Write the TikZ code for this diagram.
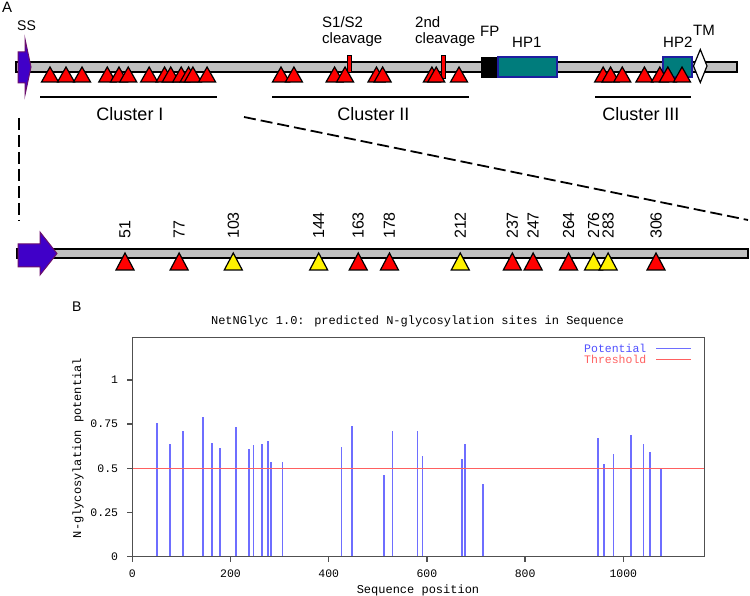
\documentclass[tikz,border=0pt]{standalone}
\usepackage{fontspec}
\setmainfont{Liberation Sans}
\newfontfamily\chartfont{Liberation Mono}
\definecolor{barg}{HTML}{C0C0C0}
\definecolor{ssfill}{HTML}{4000C8}
\definecolor{ssline}{HTML}{6B0F6B}
\definecolor{hpfill}{HTML}{007C7C}
\definecolor{hpline}{HTML}{1E1EA0}
\definecolor{potblue}{HTML}{6E6EFF}
\definecolor{potText}{HTML}{5050FF}
\definecolor{thrred}{HTML}{FF6060}
\definecolor{frameg}{HTML}{505050}
\begin{document}
\begin{tikzpicture}[x=1pt,y=-1pt,
  protbar/.style={draw=black,fill=barg,line width=1.4pt},
  ssarrow/.style={draw=ssline,fill=ssfill,line width=1pt,line join=miter},
  hpbox/.style={draw=hpline,fill=hpfill,line width=1.2pt},
  tri/.style={draw=black,line width=1.2pt,line join=miter},
  cleav/.style={draw=black,fill=red,line width=0.8pt},
  lab/.style={inner sep=0pt,font=\fontsize{15}{16}\selectfont},
  cluslab/.style={inner sep=0pt,font=\fontsize{18}{20}\selectfont,anchor=base},
  numlab/.style={inner sep=0pt,font=\fontsize{16}{18}\selectfont,rotate=90,anchor=west},
  clusline/.style={line width=1.5pt},
  zoomline/.style={dash pattern=on 12pt off 5pt,line width=1.8pt},
  chartframe/.style={draw=frameg,line width=1.5pt},
  potbar/.style={draw=potblue,line width=1.8pt},
  thrline/.style={draw=thrred,line width=1.4pt},
  ticklab/.style={inner sep=0pt,font=\chartfont\fontsize{11.5}{12}\selectfont},
  charttext/.style={inner sep=0pt,font=\chartfont\fontsize{12}{13}\selectfont}
]
\useasboundingbox (0,0) rectangle (750,596);

% ---------- Panel A: full protein ----------
\node[lab,anchor=base west] (labA) at (2,13) {A};
\draw[protbar] (16,62) rectangle (737,72);
\filldraw[ssarrow] (18,52) -- (25,52) -- (25,39) -- (31,67) -- (25,95) -- (25,83) -- (18,83) -- cycle;
\node[lab,anchor=base,font=\fontsize{14}{15}\selectfont] (ss) at (26.5,31) {SS};

% cleavage marks
\filldraw[cleav] (347,55) rectangle (351,72);
\filldraw[cleav] (441.5,55) rectangle (445.5,78);
\node[lab,anchor=north west,align=left] (s1s2) at (322,16) {S1/S2\\cleavage};
\node[lab,anchor=north west,align=left] (second) at (415,16) {2nd\\cleavage};

% domains
\filldraw[draw=black,fill=black] (481,57) rectangle (498,77);
\filldraw[hpbox] (498,57) rectangle (557,77);
\filldraw[hpbox] (663,57) rectangle (692,77);
\filldraw[draw=black,fill=white,line width=1.2pt] (693.5,66) -- (700.3,49.5) -- (707,66) -- (700.3,82.5) -- cycle;
\node[lab,anchor=base west] (fp) at (480,37) {FP};
\node[lab,anchor=base west] (hp1) at (512,48) {HP1};
\node[lab,anchor=base west] (hp2) at (663,48) {HP2};
\node[lab,anchor=base west] (tm) at (693,36) {TM};

% glycosylation sites (top)
\foreach \p in {51,77,103,144,163,178,212,237,247,264,276,283,306,
                426,447,513,530,581,591,671,678,715,
                949,961,980,1016,1041,1054,1077} {
  \pgfmathsetmacro\xx{18.58+0.616*\p}
  \filldraw[tri,fill=red] (\xx-8.5,82) -- (\xx,67) -- (\xx+8.5,82) -- cycle;
}

% clusters
\draw[clusline] (40,97) -- (217,97);
\draw[clusline] (272,97) -- (469,97);
\draw[clusline] (595,97) -- (691,97);
\node[cluslab] (c1) at (130,121) {Cluster I};
\node[cluslab] (c2) at (373.5,121) {Cluster II};
\node[cluslab] (c3) at (641,121) {Cluster III};

% zoom lines
\coordinate (z1a) at (19,118);
\coordinate (z1b) at (19,221);
\coordinate (z2a) at (244,117);
\coordinate (z2b) at (748,220);
\draw[zoomline] (z1a) -- (z1b);
\draw[zoomline] (z2a) -- (z2b);

% ---------- Panel A: cluster I zoom ----------
\draw[protbar] (17,249) rectangle (748,258);
\filldraw[ssarrow] (18,244) -- (40,244) -- (40,232) -- (57,253.5) -- (40,275) -- (40,267) -- (18,267) -- cycle;
\foreach \p/\c in {51/red,77/red,103/yellow,144/yellow,163/red,178/red,212/yellow,
                   237/red,247/red,264/red,276/yellow,283/yellow,306/red} {
  \pgfmathsetmacro\xx{18.8+2.0824*\p}
  \filldraw[tri,fill=\c] (\xx-9,270) -- (\xx,253) -- (\xx+9,270) -- cycle;
  \node[numlab] (n\p) at (\xx,239) {\p};
}

% ---------- Panel B: NetNGlyc chart ----------
\node[lab,anchor=base west,font=\fontsize{14}{15}\selectfont] (labB) at (72,312) {B};
\node[charttext,anchor=base] (title) at (417.5,324) {NetNGlyc 1.0: predicted N-glycosylation sites in Sequence};

\begin{scope}[shift={(132.3,556.7)},x=0.491pt,y=176.7pt]
  \foreach \p/\v in {51/0.755,77/0.636,103/0.711,144/0.789,163/0.642,178/0.613,212/0.732,
                     237/0.611,247/0.632,264/0.636,276/0.655,283/0.538,306/0.538,
                     426/0.619,447/0.74,513/0.462,530/0.713,581/0.713,591/0.572,
                     671/0.553,678/0.636,715/0.411,949/0.670,961/0.523,980/0.58,
                     1016/0.689,1041/0.636,1054/0.591,1077/0.495} {
    \draw[potbar] (\p,0) -- (\p,\v);
  }
  \draw[thrline] (0,0.5) -- (1165,0.5);
  \draw[chartframe] (0,0) rectangle (1165,1.24);
  \foreach \v/\l in {0/0,0.25/0.25,0.5/0.5,0.75/0.75,1/1} {
    \draw[chartframe] (0,\v) -- ++(-5pt,0);
    \path (0,\v) ++(-14pt,0) node[ticklab,anchor=east] {\l};
  }
  \foreach \p in {0,200,400,600,800,1000} {
    \draw[chartframe] (\p,0) -- ++(0,-5pt);
    \path (\p,0) ++(0,-20.3pt) node[ticklab,anchor=base] {\p};
  }
\end{scope}

% legend
\node[charttext,anchor=base west,text=potText,font=\chartfont\fontsize{11.5}{12}\selectfont] (legp) at (584,352) {Potential};
\node[charttext,anchor=base west,text=thrred,font=\chartfont\fontsize{11.5}{12}\selectfont] (legt) at (584,363) {Threshold};
\coordinate (lp1) at (656,348.5);
\coordinate (lp2) at (691,348.5);
\coordinate (lt1) at (656,359.5);
\coordinate (lt2) at (691,359.5);
\draw[potbar,line width=1.3pt] (lp1) -- (lp2);
\draw[thrline,line width=1.3pt] (lt1) -- (lt2);

% axis titles
\node[charttext,anchor=base] (xlab) at (418,593) {Sequence position};
\node[charttext,rotate=90] (ylab) at (78,448) {N-glycosylation potential};
\end{tikzpicture}
\end{document}
